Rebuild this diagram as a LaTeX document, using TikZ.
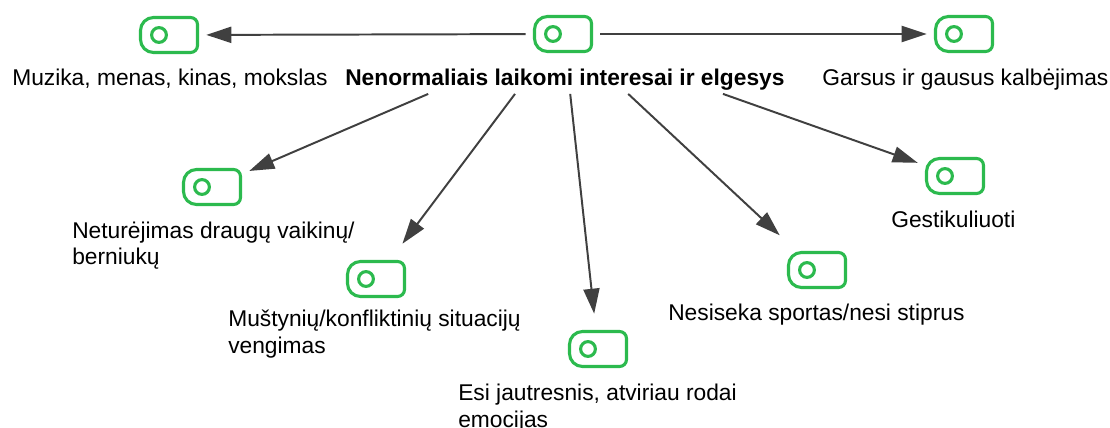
\documentclass[tikz,border=0pt]{standalone}
\usepackage{fontspec}
\setmainfont{Liberation Sans}
\usepackage{tikz}
\usetikzlibrary{arrows.meta, calc}
\definecolor{taggreen}{RGB}{44,186,78}
\definecolor{arrowgray}{RGB}{64,64,64}
\tikzset{
    tag/.pic={
        \draw[taggreen, line width=2.2pt]
            (-0.3875,0.4375) -- (0.5375,0.4375) arc[start angle=90, end angle=0, radius=0.175]
            -- (0.7125,-0.2625) arc[start angle=0, end angle=-90, radius=0.175]
            -- (-0.3875,-0.4375) arc[start angle=270, end angle=180, radius=0.325]
            -- (-0.7125,0.1125) arc[start angle=180, end angle=90, radius=0.325] -- cycle;
        \draw[taggreen, line width=2.2pt] (-0.25,0) circle[radius=0.185];
    }
}

\begin{document}
\begin{tikzpicture}[
    tagbox/.style={rectangle, minimum width=1.85cm, minimum height=1.75cm, inner sep=0},
    lbl/.style={font=\fontsize{16.2}{18.8}\selectfont, align=left, inner sep=0, anchor=base west},
    arrow/.style={-{Triangle[length=17.8pt, width=11.4pt]}, line width=1.4pt, draw=arrowgray}
]
\useasboundingbox (0,0) rectangle (27.75,10.675);

% Icons
\foreach \n/\p in {top/{14.075,9.825}, muz/{4.225,9.8}, gars/{24.1,9.825},
                   net/{5.3,6.0}, must/{9.4,3.7}, esi/{14.95,1.95},
                   nes/{20.425,3.925}, gest/{23.875,6.275}} {
    \node[tagbox] (\n) at (\p) {};
    \pic at (\n) {tag};
}

% Labels (two-line labels sit on their last line)
\node[lbl, font=\fontsize{16.2}{18.8}\selectfont\bfseries, inner sep=2pt] (title) at (8.555, 8.525) {Nenormaliais laikomi interesai ir elgesys};
\node[lbl] (muzlbl) at (0.3, 8.525) {Muzika, menas, kinas, mokslas};
\node[lbl] (garslbl) at (20.55, 8.525) {Garsus ir gausus kalbėjimas};
\node[lbl] (netlbl) at (1.8, 4.06) {Neturėjimas draugų vaikinų/\\berniukų};
\node[lbl] (mustlbl) at (5.7, 1.84) {Muštynių/konfliktinių situacijų\\vengimas};
\node[lbl] (esilbl) at (11.45, 0.0) {Esi jautresnis, atviriau rodai\\emocijas};
\node[lbl] (neslbl) at (16.7, 2.675) {Nesiseka sportas/nesi stiprus};
\node[lbl] (gestlbl) at (22.275, 5.0) {Gestikuliuoti};

% Start points under the title
\coordinate (s1) at ($(title.south west)+(2.15,0)$);
\coordinate (s2) at ($(title.south west)+(4.32,0)$);
\coordinate (s3) at ($(title.south west)+(5.7,0)$);
\coordinate (s4) at ($(title.south west)+(7.15,0)$);
\coordinate (s5) at ($(title.south west)+(9.52,0)$);

% Arrows
\draw[arrow] (top) -- (muz);
\draw[arrow] (top) -- (gars);
\draw[arrow] (s1) -- (net);
\draw[arrow] (s2) -- (must);
\draw[arrow] (s3) -- (esi);
\draw[arrow] (s4) -- (nes);
\draw[arrow] (s5) -- (gest);

\end{tikzpicture}
\end{document}
